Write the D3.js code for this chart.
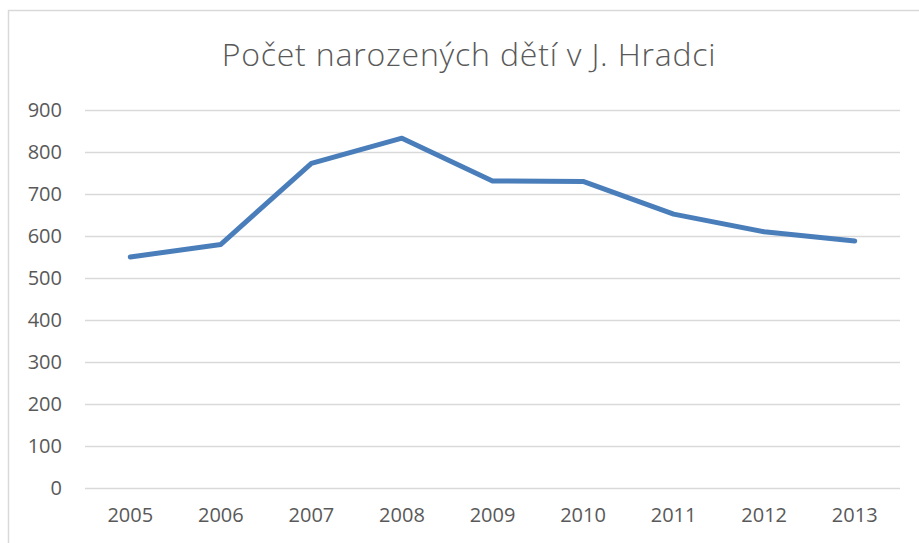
<!DOCTYPE html>
<html>
<head>
<meta charset="utf-8">
<script src="https://cdn.jsdelivr.net/npm/d3@7"></script>
<style>
  body { margin: 0; background: #fff; }
  text { font-family: "Open Sans", "Liberation Sans", sans-serif; }
</style>
</head>
<body>
<script>
var w = 919;
var h = 543;

var years = ["2005","2006","2007","2008","2009","2010","2011","2012","2013"];
var births = [550, 580, 773, 833, 731, 730, 652, 610, 588];
var yTicks = [0,100,200,300,400,500,600,700,800,900];
var title = "Počet narozených dětí v J. Hradci";

var plotLeft = 85, plotRight = 900, plotTop = 110, plotBottom = 488;

var svg = d3.select("body").append("svg")
            .attr("width", w)
            .attr("height", h);

// chart frame
svg.append("rect")
   .attr("x", 8.5).attr("y", 10.5)
   .attr("width", w).attr("height", h)
   .attr("fill", "none")
   .attr("stroke", "#d9d9d9")
   .attr("stroke-width", 1.5);

var x = d3.scaleBand().domain(years).range([plotLeft, plotRight]);
var y = d3.scaleLinear().domain([0, 900]).range([plotBottom, plotTop]);

// gridlines
svg.append("g")
   .attr("transform", "translate(" + plotLeft + ",0)")
   .call(d3.axisLeft(y).tickValues(yTicks).tickSize(-(plotRight - plotLeft)).tickFormat(""))
   .call(function(g){ g.select(".domain").remove(); })
   .selectAll("line")
   .attr("stroke", "#d9d9d9")
   .attr("stroke-width", 1.3);

// y labels
svg.append("g")
   .attr("transform", "translate(" + plotLeft + ",0)")
   .call(d3.axisLeft(y).tickValues(yTicks).tickSize(0).tickPadding(23))
   .call(function(g){ g.select(".domain").remove(); })
   .selectAll("text")
   .attr("font-size", "20px")
   .attr("font-family", "Open Sans")
   .attr("fill", "#595959");

// x labels
svg.append("g")
   .attr("transform", "translate(0," + plotBottom + ")")
   .call(d3.axisBottom(x).tickSize(0).tickPadding(20))
   .call(function(g){ g.select(".domain").remove(); })
   .selectAll("text")
   .attr("font-size", "20px")
   .attr("font-family", "Open Sans")
   .attr("fill", "#595959");

// line
var line = d3.line()
   .x(function(d, i){ return x(years[i]) + x.bandwidth() / 2; })
   .y(function(d){ return y(d); });

svg.append("path")
   .datum(births)
   .attr("d", line)
   .attr("fill", "none")
   .attr("stroke", "#4a7ebb")
   .attr("stroke-width", 5)
   .attr("stroke-linejoin", "round")
   .attr("stroke-linecap", "round");

// title
svg.append("text")
   .text(title)
   .attr("x", 469)
   .attr("y", 66)
   .attr("text-anchor", "middle")
   .attr("font-size", "32px")
   .attr("font-weight", 300)
   .attr("letter-spacing", "0.8px")
   .attr("fill", "#595959");
</script>
</body>
</html>
